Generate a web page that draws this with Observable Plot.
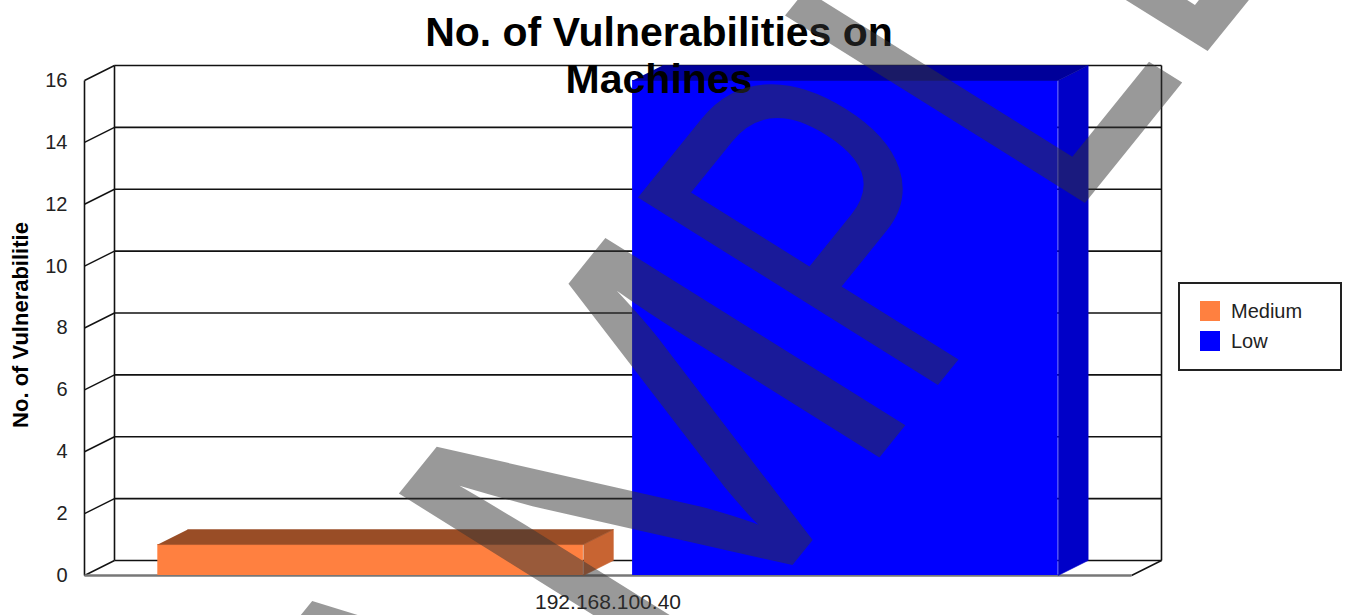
<!DOCTYPE html>
<html><head><meta charset="utf-8">
<script src="https://cdn.jsdelivr.net/npm/d3@7"></script>
<script src="https://cdn.jsdelivr.net/npm/@observablehq/plot@0.6"></script>
<style>
body{margin:0;background:#fff;}
#wrap{position:relative;width:1349px;height:615px;overflow:hidden;font-family:"Liberation Sans",Arial,sans-serif;}
#chart{position:absolute;left:0;top:0;}
#legend{position:absolute;left:1178px;top:282px;width:160px;height:85px;border:2px solid #222;background:#fff;}
.item{position:absolute;left:20px;height:20px;display:flex;align-items:center;font-size:20px;color:#222;white-space:nowrap;}
.sw{width:20px;height:20px;margin-right:11px;box-sizing:border-box;}
</style></head><body><div id="wrap"><div id="chart"></div><div id="legend"></div></div>
<script>
// ---- data ----
const categories = ["192.168.100.40"];
const series = ["Medium", "Low"];
const seriesValues = [1, 16];
const yTicks = [0, 2, 4, 6, 8, 10, 12, 14, 16];
const frontColors = ["#FF8040", "#0000FF"];
const sideColors = ["#C86432", "#0000C8"];
const topColors = ["#994D26", "#000099"];
const titleText = "No. of Vulnerabilities on\nMachines";
const yLabel = "No. of Vulnerabilitie";
const watermarkParts = ["SA", "M", "PLE"];

// ---- layout ----
const W = 1349, H = 615, mL = 84, mR = 218, mT = 80, mB = 40;
const depthPx = [30, 15];
const yMax = 16;
const dxU = depthPx[0] / (W - mL - mR);
const dyU = depthPx[1] * yMax / (H - mT - mB);
const band = d3.scaleBand(series, [0, 1]).paddingInner(0.1036).paddingOuter(0.1544);

const bars = series.map((s, i) => ({
  s, v: seriesValues[i], x0: band(s), x1: band(s) + band.bandwidth(),
  front: frontColors[i], side: sideColors[i], top: topColors[i]
}));

const faceMarks = [];
for (const b of bars) {
  faceMarks.push(Plot.rect([b], {x1: "x0", x2: "x1", y1: 0, y2: "v", fill: b.front}));
  const topPoly = [[b.x0, b.v], [b.x1, b.v], [b.x1 + dxU, b.v + dyU], [b.x0 + dxU, b.v + dyU]];
  const sidePoly = [[b.x1, 0], [b.x1 + dxU, dyU], [b.x1 + dxU, b.v + dyU], [b.x1, b.v]];
  faceMarks.push(Plot.line(sidePoly, {x: d => d[0], y: d => d[1], fill: b.side, stroke: b.side, strokeWidth: 0.5}));
  faceMarks.push(Plot.line(topPoly, {x: d => d[0], y: d => d[1], fill: b.top, stroke: b.top, strokeWidth: 0.5}));
}

const ink = "#111";
const chart = Plot.plot({
  width: W, height: H,
  marginLeft: mL, marginRight: mR, marginTop: mT, marginBottom: mB,
  x: {domain: [0, 1], axis: null},
  y: {domain: [0, yMax], axis: null},
  style: {fontFamily: "'Liberation Sans', Arial, sans-serif", background: "transparent", overflow: "visible"},
  marks: [
    // back wall gridlines
    Plot.link(yTicks, {x1: dxU, x2: 1 + dxU, y1: t => t + dyU, y2: t => t + dyU, stroke: ink, strokeWidth: 1.6}),
    // back wall verticals
    Plot.link([0, 1], {x1: d => d + dxU, x2: d => d + dxU, y1: dyU, y2: yMax + dyU, stroke: ink, strokeWidth: 1.6}),
    // left wall diagonals
    Plot.link(yTicks, {x1: 0, y1: t => t, x2: dxU, y2: t => t + dyU, stroke: ink, strokeWidth: 1.4}),
    // left wall front vertical
    Plot.link([0], {x1: 0, x2: 0, y1: 0, y2: yMax, stroke: ink, strokeWidth: 1.6}),
    // floor right diagonal
    Plot.link([1], {x1: 1, y1: 0, x2: 1 + dxU, y2: dyU, stroke: ink, strokeWidth: 1.4}),
    // floor front edge
    Plot.link([0], {x1: 0, x2: 1, y1: 0, y2: 0, stroke: "#777", strokeWidth: 2.5}),
    ...faceMarks,
    // y tick labels
    Plot.text(yTicks, {x: 0, y: t => t, text: t => String(t), textAnchor: "end", dx: -17, fontSize: 20, fill: "#222"}),
    // x category label
    Plot.text(categories, {frameAnchor: "bottom", dy: 19, lineAnchor: "top", fontSize: 21, fill: "#222"}),
    // y axis title
    Plot.text([yLabel], {frameAnchor: "left", textAnchor: "middle", rotate: -90, dx: -64, dy: -3, fontSize: 22, fontWeight: "bold", fill: "#000"}),
    // chart title
    Plot.text([titleText], {frameAnchor: "top", dx: 51, dy: -68, lineAnchor: "top", fontSize: 41, fontWeight: "bold", lineHeight: 1.146, fill: "#000"})
  ]
});
document.getElementById("chart").appendChild(chart);

// watermark stamp overlay (sheared like the stretched source image)
const wm = d3.select(chart).append("g")
  .attr("transform", "matrix(2.205,-2.73,4.36,2.724,442,999)")
  .attr("fill", "#333")
  .attr("fill-opacity", 0.5);
const mStart = 105, mScale = 1.4, pStart = 216.7;
const wmText = (sel) => sel
  .attr("font-size", 100)
  .attr("font-family", "'Liberation Sans', Arial, sans-serif")
  .attr("font-weight", "normal");
wmText(wm.append("text")).attr("x", mStart).attr("text-anchor", "end").text(watermarkParts[0]);
wmText(wm.append("text")).attr("text-anchor", "start").attr("transform", `translate(${mStart},0) scale(${mScale},1)`).text(watermarkParts[1]);
wmText(wm.append("text")).attr("text-anchor", "start").attr("x", pStart).text(watermarkParts[2]);

// legend
const legend = document.getElementById("legend");
series.forEach((s, i) => {
  const it = document.createElement("div");
  it.className = "item";
  it.style.top = (17 + i * 30) + "px";
  const sw = document.createElement("span");
  sw.className = "sw";
  sw.style.background = frontColors[i];
  it.appendChild(sw);
  it.appendChild(document.createTextNode(s));
  legend.appendChild(it);
});
</script></body></html>
